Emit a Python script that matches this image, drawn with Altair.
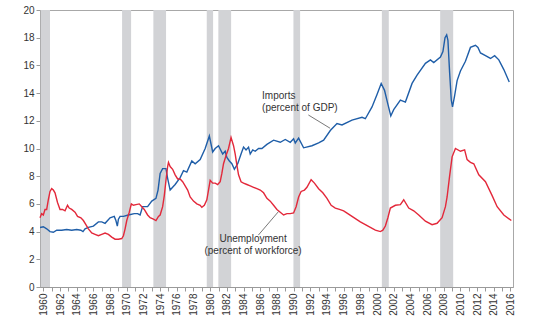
import altair as alt
import pandas as pd

# ---------------- data ----------------
imp_year = [1959.6, 1960.0, 1960.4, 1960.8, 1961.2, 1961.6, 1962.2, 1962.8, 1963.4, 1964.0,
            1964.5, 1964.75, 1965.0, 1965.4, 1966.0, 1966.6, 1967.0, 1967.4, 1968.0, 1968.5,
            1968.7, 1968.87, 1969.0, 1969.2, 1969.6, 1970.2, 1970.9, 1971.3, 1971.6, 1971.9,
            1972.5, 1973.0, 1973.5, 1973.75, 1974.0, 1974.3, 1974.7, 1974.9, 1975.2, 1975.8,
            1976.4, 1976.8, 1977.2, 1977.8, 1978.2, 1978.8, 1979.4, 1979.9, 1980.3, 1980.6,
            1981.0, 1981.5, 1981.8, 1982.0, 1982.3, 1982.6, 1982.9, 1983.3, 1983.7, 1984.0,
            1984.3, 1984.6, 1984.8, 1985.1, 1985.4, 1985.8, 1986.2, 1986.8, 1987.6, 1988.4,
            1989.0, 1989.6, 1990.0, 1990.2, 1990.6, 1991.2, 1992.2, 1993.0, 1993.6, 1994.4,
            1995.2, 1995.8, 1997.0, 1998.2, 1998.6, 1999.4, 2000.0, 2000.5, 2000.9, 2001.3,
            2001.65, 2002.0, 2002.8, 2003.4, 2004.2, 2004.8, 2005.8, 2006.4, 2006.8, 2007.6,
            2007.9, 2008.15, 2008.35, 2008.5, 2008.7, 2008.9, 2009.05, 2009.3, 2009.6, 2010.0,
            2010.6, 2011.2, 2011.8, 2012.1, 2012.4, 2013.0, 2013.6, 2014.1, 2014.6, 2015.2,
            2015.85]
imp_val = [4.3, 4.35, 4.2, 4.0, 3.95, 4.1, 4.1, 4.15, 4.1, 4.15,
           4.1, 4.0, 4.2, 4.3, 4.4, 4.7, 4.7, 4.6, 5.0, 5.1,
           4.8, 4.4, 4.9, 5.1, 5.1, 5.2, 5.3, 5.3, 5.2, 5.8,
           5.8, 6.2, 6.4, 7.0, 8.2, 8.55, 8.55, 7.85, 7.0, 7.4,
           7.9, 8.4, 8.3, 9.1, 8.9, 9.2, 10.0, 10.9, 9.75, 10.0,
           10.2, 9.6, 9.8, 9.35, 9.1, 8.9, 8.5, 8.9, 9.6, 10.1,
           9.9, 10.1, 9.6, 9.9, 9.8, 10.0, 10.0, 10.3, 10.6, 10.45,
           10.65, 10.45, 10.7, 10.4, 10.75, 10.05, 10.2, 10.4, 10.6, 11.3,
           11.8, 11.7, 12.05, 12.25, 12.15, 13.0, 13.9, 14.7, 14.2, 13.2,
           12.35, 12.8, 13.5, 13.35, 14.7, 15.3, 16.15, 16.4, 16.2, 16.6,
           17.0, 18.0, 18.2, 17.8, 15.5, 13.5, 13.0, 13.8, 14.9, 15.6,
           16.3, 17.3, 17.45, 17.3, 16.9, 16.7, 16.5, 16.7, 16.4, 15.7,
           14.8]

une_year = [1959.6, 1959.8, 1960.0, 1960.2, 1960.4, 1960.6, 1960.8, 1961.0, 1961.2, 1961.4,
            1961.7, 1962.0, 1962.3, 1962.6, 1962.9, 1963.1, 1963.4, 1963.8, 1964.1, 1964.5,
            1964.8, 1965.1, 1965.4, 1965.8, 1966.2, 1966.6, 1967.0, 1967.4, 1967.8, 1968.2,
            1968.6, 1969.0, 1969.4, 1969.6, 1969.8, 1970.0, 1970.3, 1970.55, 1970.8, 1971.1,
            1971.5, 1971.8, 1972.1, 1972.5, 1972.8, 1973.2, 1973.5, 1973.8, 1974.0, 1974.3,
            1974.5, 1974.7, 1974.9, 1975.0, 1975.2, 1975.5, 1975.8, 1976.1, 1976.4, 1976.7,
            1977.0, 1977.3, 1977.6, 1978.0, 1978.4, 1978.8, 1979.0, 1979.3, 1979.6, 1979.8,
            1980.0, 1980.3, 1980.6, 1980.9, 1981.2, 1981.4, 1981.6, 1981.9, 1982.2, 1982.5,
            1982.8, 1983.0, 1983.2, 1983.4, 1983.7, 1984.0, 1984.4, 1984.8, 1985.2, 1985.6,
            1986.0, 1986.4, 1986.8, 1987.2, 1987.6, 1988.0, 1988.4, 1988.8, 1989.2, 1989.6,
            1990.0, 1990.3, 1990.6, 1990.9, 1991.3, 1991.6, 1992.1, 1992.5, 1993.0, 1993.5,
            1994.0, 1994.5, 1995.0, 1995.5, 1996.0, 1996.5, 1997.0, 1997.5, 1998.0, 1998.6,
            1999.2, 1999.8, 2000.4, 2000.7, 2001.0, 2001.3, 2001.6, 2002.2, 2002.8, 2003.2,
            2003.8, 2004.4, 2005.0, 2005.8, 2006.6, 2007.2, 2007.8, 2008.2, 2008.4, 2008.7,
            2009.0, 2009.4, 2010.0, 2010.5, 2010.8, 2011.2, 2011.6, 2012.2, 2013.0, 2013.8,
            2014.4, 2015.2, 2016.1]
une_val = [5.0, 5.3, 5.2, 5.6, 5.6, 6.3, 6.9, 7.1, 7.0, 6.8,
           6.1, 5.6, 5.6, 5.5, 5.9, 5.7, 5.6, 5.4, 5.1, 5.0,
           4.8, 4.5, 4.2, 3.9, 3.8, 3.7, 3.8, 3.9, 3.8, 3.6,
           3.45, 3.45, 3.5, 3.7, 4.2, 4.8, 5.4, 6.0, 5.9, 5.95,
           6.0, 5.8, 5.6, 5.2, 5.0, 4.9, 4.8, 5.1, 5.2, 5.8,
           6.6, 7.7, 8.7, 9.0, 8.7, 8.5, 8.1, 7.8, 7.8, 7.6,
           7.3, 7.0, 6.5, 6.2, 6.0, 5.9, 5.75, 5.9, 6.3, 7.0,
           7.7, 7.5, 7.5, 7.4, 7.6, 8.2, 8.9, 9.5, 10.0, 10.8,
           10.2, 9.6, 8.8, 8.1, 7.6, 7.5, 7.4, 7.3, 7.2, 7.1,
           7.0, 6.8, 6.4, 6.2, 5.9, 5.6, 5.4, 5.2, 5.3, 5.3,
           5.35, 5.8, 6.5, 6.9, 7.0, 7.2, 7.75, 7.5, 7.1, 6.8,
           6.4, 5.9, 5.7, 5.6, 5.5, 5.3, 5.1, 4.9, 4.7, 4.5,
           4.3, 4.1, 4.0, 4.1, 4.4, 5.0, 5.7, 5.9, 5.95, 6.3,
           5.7, 5.5, 5.2, 4.75, 4.5, 4.6, 5.0, 5.8, 6.5, 8.0,
           9.4, 10.0, 9.8, 9.9, 9.2, 9.0, 8.9, 8.1, 7.6, 6.6,
           5.8, 5.2, 4.8]

rec_start = [1959.68, 1969.44, 1973.19, 1979.59, 1980.98, 1989.98, 2000.58, 2007.57]
rec_end = [1960.80, 1970.52, 1974.71, 1980.35, 1982.51, 1990.78, 2001.41, 2009.13]

year_ticks = list(range(1960, 2017))
y_ticks = list(range(0, 21, 2))

label_text = ["Imports", "(percent of GDP)", "Unemployment", "(percent of workforce)"]
label_x = [1986.22, 1986.22, 1985.14, 1985.14]
label_y = [13.79, 12.92, 3.44, 2.6]
label_align = ["left", "left", "center", "center"]

lead_x = [1991.77, 1985.78]
lead_y = [12.42, 3.75]
lead_x2 = [1994.38, 1988.18]
lead_y2 = [11.46, 5.44]

# ---------------- frames ----------------
imp_df = pd.DataFrame({"year": imp_year, "value": imp_val})
une_df = pd.DataFrame({"year": une_year, "value": une_val})
rec_df = pd.DataFrame({"year": rec_start, "end": rec_end,
                       "value": [0] * len(rec_start), "hi": [20] * len(rec_start)})
lab_df = pd.DataFrame({"year": label_x, "value": label_y, "text": label_text, "align": label_align})
lead_df = pd.DataFrame({"year": lead_x, "value": lead_y, "x2": lead_x2, "y2": lead_y2})

xs = alt.Scale(domain=[1959.6, 2016.3], nice=False, zero=False)
ys = alt.Scale(domain=[0, 20], nice=False, zero=True)

x_axis = alt.Axis(values=year_ticks, format="d",
                  labelExpr="datum.value % 2 == 0 ? datum.label : ''",
                  labelAngle=270, labelOverlap=False, labelFlush=False,
                  tickSize=4, labelFontSize=10, labelColor="#333333",
                  domainColor="#9a9a9a", tickColor="#9a9a9a", grid=False,
                  labelPadding=2, title=None)
y_axis = alt.Axis(values=y_ticks, tickSize=4, labelFontSize=10, labelColor="#333333",
                  domainColor="#9a9a9a", tickColor="#9a9a9a", grid=False,
                  labelPadding=2, title=None)

X = alt.X("year:Q", scale=xs, axis=x_axis)
Y = alt.Y("value:Q", scale=ys, axis=y_axis)

rec = alt.Chart(rec_df).mark_rect(color="#d2d3d6").encode(
    x=X, x2="end:Q", y=Y, y2="hi:Q",
)

imp_line = alt.Chart(imp_df).mark_line(color="#1f5ea8", strokeWidth=1.4).encode(x=X, y=Y)

une_line = alt.Chart(une_df).mark_line(color="#e3283a", strokeWidth=1.4).encode(x=X, y=Y)

leads = alt.Chart(lead_df).mark_rule(color="#555555", strokeWidth=0.8).encode(
    x=X, y=Y, x2="x2:Q", y2="y2:Q",
)

labels_left = alt.Chart(lab_df[lab_df["align"] == "left"]).mark_text(
    align="left", baseline="middle", fontSize=10, color="#333333", font="Liberation Sans"
).encode(x=X, y=Y, text="text:N")
labels_center = alt.Chart(lab_df[lab_df["align"] == "center"]).mark_text(
    align="center", baseline="middle", fontSize=10, color="#333333", font="Liberation Sans"
).encode(x=X, y=Y, text="text:N")

chart = alt.layer(rec, imp_line, une_line, leads, labels_left, labels_center).properties(
    width=473, height=277,
    autosize=alt.AutoSizeParams(type="none"),
    padding={"left": 40, "top": 10, "right": 24, "bottom": 40},
    background="white",
).configure_view(stroke="#a8a8a8", strokeWidth=1).configure_axis(
    labelFont="Liberation Sans"
)

chart.save("out.html", embed_options={"renderer": "svg", "actions": False})
